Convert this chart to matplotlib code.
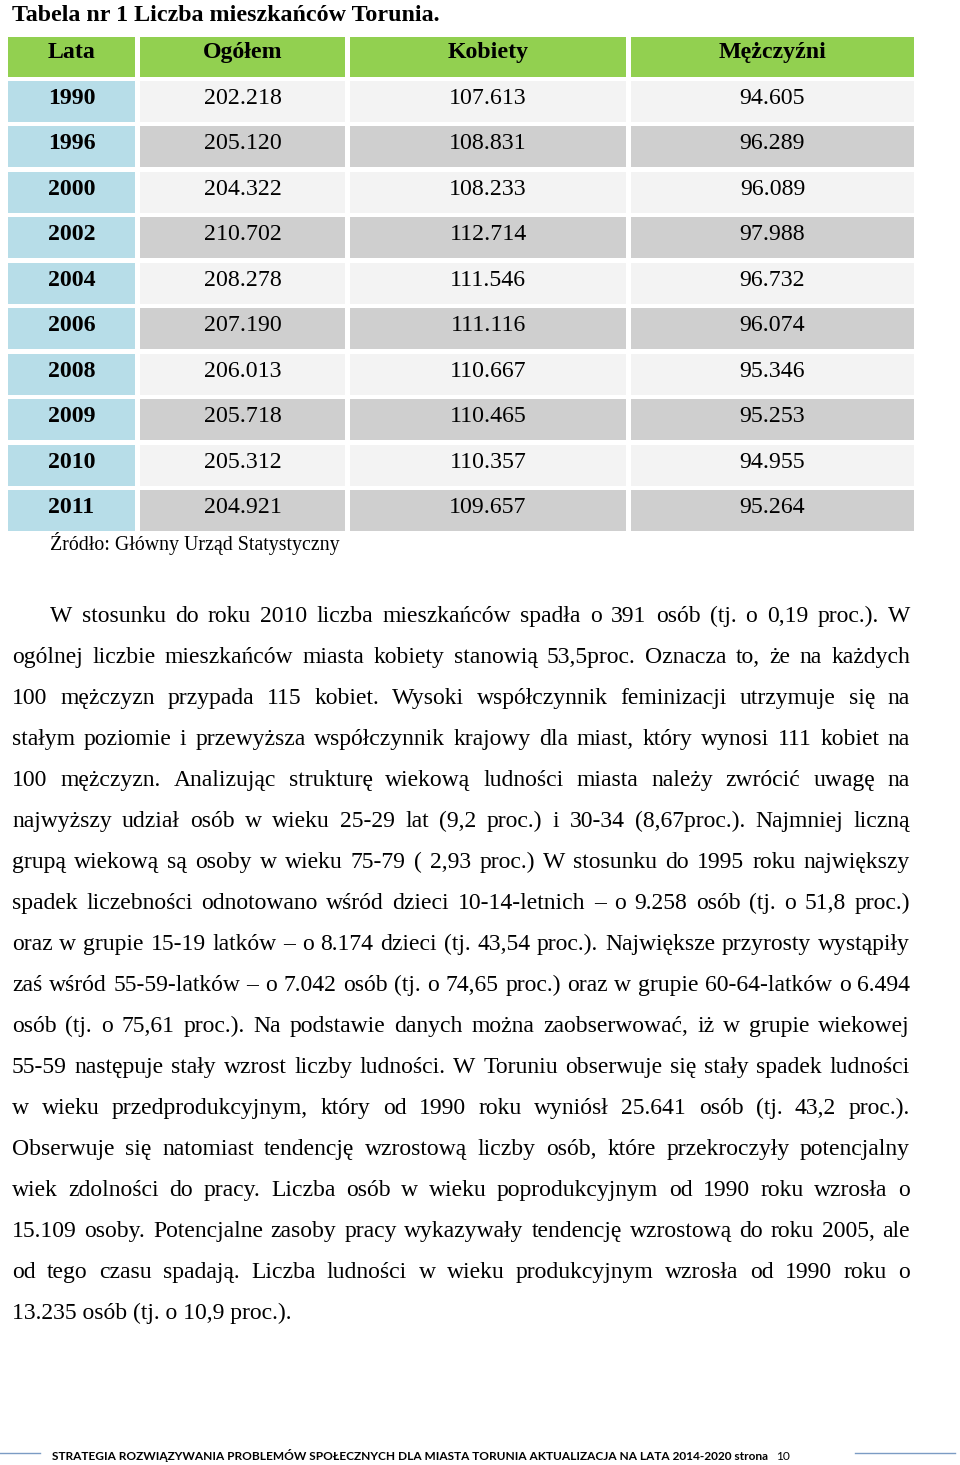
import matplotlib
matplotlib.use("Agg")
import matplotlib.pyplot as plt
from matplotlib.patches import Rectangle

# Table data
headers = ["Lata", "Ogółem", "Kobiety", "Mężczyźni"]
years = ["1990", "1996", "2000", "2002", "2004", "2006", "2008", "2009", "2010", "2011"]
total = ["202.218", "205.120", "204.322", "210.702", "208.278",
         "207.190", "206.013", "205.718", "205.312", "204.921"]
women = ["107.613", "108.831", "108.233", "112.714", "111.546",
         "111.116", "110.667", "110.465", "110.357", "109.657"]
men = ["94.605", "96.289", "96.089", "97.988", "96.732",
       "96.074", "95.346", "95.253", "94.955", "95.264"]

title = "Tabela nr 1 Liczba mieszkańców Torunia."
source = "Źródło: Główny Urząd Statystyczny"

# paragraph, one entry per printed line
text_lines = [
    "W stosunku do roku 2010 liczba mieszkańców spadła o 391 osób (tj. o 0,19 proc.). W",
    "ogólnej liczbie mieszkańców miasta kobiety stanowią 53,5proc. Oznacza to, że na każdych",
    "100 mężczyzn przypada 115 kobiet. Wysoki współczynnik feminizacji utrzymuje się na",
    "stałym poziomie i przewyższa współczynnik krajowy dla miast, który wynosi 111 kobiet na",
    "100 mężczyzn. Analizując strukturę wiekową ludności miasta należy zwrócić uwagę na",
    "najwyższy udział osób w wieku 25-29 lat (9,2 proc.) i 30-34 (8,67proc.). Najmniej liczną",
    "grupą wiekową są osoby w wieku 75-79 ( 2,93 proc.) W stosunku do 1995 roku największy",
    "spadek liczebności odnotowano wśród dzieci 10-14-letnich – o 9.258 osób (tj. o 51,8 proc.)",
    "oraz w grupie 15-19 latków – o 8.174 dzieci (tj. 43,54 proc.).  Największe przyrosty wystąpiły",
    "zaś wśród 55-59-latków – o 7.042 osób (tj. o 74,65 proc.) oraz w grupie 60-64-latków o 6.494",
    "osób (tj. o 75,61 proc.). Na podstawie danych można zaobserwować, iż w grupie wiekowej",
    "55-59 następuje stały wzrost liczby ludności. W Toruniu obserwuje się stały spadek ludności",
    "w wieku przedprodukcyjnym, który od 1990 roku wyniósł 25.641 osób (tj. 43,2 proc.).",
    "Obserwuje się natomiast tendencję wzrostową liczby osób, które przekroczyły potencjalny",
    "wiek zdolności do pracy. Liczba osób w wieku poprodukcyjnym od 1990 roku wzrosła o",
    "15.109 osoby. Potencjalne zasoby pracy wykazywały tendencję wzrostową do roku 2005, ale",
    "od tego czasu spadają. Liczba ludności w wieku produkcyjnym wzrosła od 1990 roku o",
    "13.235 osób (tj. o 10,9 proc.).",
]

footer = "STRATEGIA ROZWIĄZYWANIA PROBLEMÓW SPOŁECZNYCH DLA MIASTA TORUNIA AKTUALIZACJA NA LATA 2014-2020 strona"
page_no = "10"

serif = ["Liberation Serif", "DejaVu Serif"]
sans = ["Liberation Sans Narrow", "Lato", "DejaVu Sans"]

fig = plt.figure(figsize=(9.6, 14.65), dpi=100)
ax = fig.add_axes([0, 0, 1, 1])
ax.set_xlim(0, 960)
ax.set_ylim(1465, 0)
ax.axis("off")
renderer = fig.canvas.get_renderer()


def text_width(s, **kw):
    t = ax.text(0, 0, s, **kw)
    w = t.get_window_extent(renderer).width
    t.remove()
    return w


# title
ax.text(12, 21, title, fontsize=17.3, fontweight="bold", family=serif, va="baseline")

# table
col_edges = [(8, 135), (140, 345), (350, 626), (631, 914)]
header_top, header_h = 37, 40
row_top0, row_pitch, row_h = 81, 45.45, 41
green = "#92d050"
blue = "#b7dde8"
light = "#f3f3f3"
dark = "#cfcfcf"
cell_size = 17.2

for (x0, x1), h in zip(col_edges, headers):
    ax.add_patch(Rectangle((x0, header_top), x1 - x0, header_h, color=green, lw=0))
    ax.text((x0 + x1) / 2, header_top + 21, h, fontsize=cell_size, fontweight="bold",
            family=serif, ha="center", va="baseline")

for i, row in enumerate(zip(years, total, women, men)):
    top = row_top0 + i * row_pitch
    for j, ((x0, x1), val) in enumerate(zip(col_edges, row)):
        if j == 0:
            fc = blue
        else:
            fc = light if i % 2 == 0 else dark
        ax.add_patch(Rectangle((x0, top), x1 - x0, row_h, color=fc, lw=0))
        ax.text((x0 + x1) / 2, top + 23, val, fontsize=cell_size,
                fontweight="bold" if j == 0 else "normal",
                family=serif, ha="center", va="baseline")

# source under the table
ax.text(50, 550, source, fontsize=14.3, family=serif, va="baseline")

# justified paragraph
body_kw = dict(fontsize=17, family=serif, va="baseline")
left, right = 12, 910
base0, pitch = 622, 41.0
for k, line in enumerate(text_lines):
    y = base0 + k * pitch
    x_start = 50 if k == 0 else left
    if k == len(text_lines) - 1:
        ax.text(x_start, y, line, **body_kw)
        continue
    words = line.split()
    widths = [text_width(w, **body_kw) for w in words]
    gap = (right - x_start - sum(widths)) / (len(words) - 1)
    x = x_start
    for w, wd in zip(words, widths):
        ax.text(x, y, w, **body_kw)
        x += wd + gap

# footer
foot_kw = dict(fontsize=10, fontweight="bold", family=sans, va="baseline")
fw = text_width(footer, **foot_kw)
foot_kw["fontsize"] = min(11, 10 * (770 - 52) / fw)
ax.text(52, 1460, footer, **foot_kw)
ax.text(776, 1460, page_no, fontsize=foot_kw["fontsize"], family=sans, va="baseline")
ax.plot([0, 40], [1453, 1453], color="#7b9cc4", lw=1)
ax.plot([855, 955], [1453, 1453], color="#7b9cc4", lw=1)

fig.savefig("out.png", dpi=100)
